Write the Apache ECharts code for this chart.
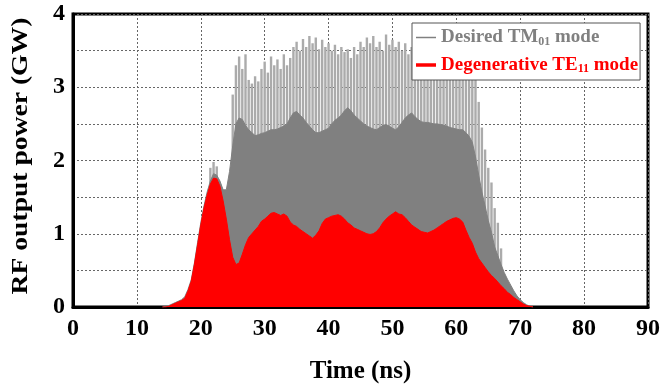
<!DOCTYPE html>
<html>
<head>
<meta charset="utf-8">
<script src="https://cdn.jsdelivr.net/npm/echarts@6/dist/echarts.min.js"></script>
<style>html,body{margin:0;padding:0;background:#fff;}#c{width:663px;height:391px;}</style>
</head>
<body>
<div id="c"></div>
<script>
// Time axis (ns) shared by the two envelopes
const times = [14,14.5,15,15.5,16,16.5,17,17.5,18,18.5,19,19.5,20,20.5,21,21.5,22,22.5,23,23.5,24,24.5,25,25.5,26,26.5,27,27.5,28,28.5,29,29.5,30,30.5,31,31.5,32,32.5,33,33.5,34,34.5,35,35.5,36,36.5,37,37.5,38,38.5,39,39.5,40,40.5,41,41.5,42,42.5,43,43.5,44,44.5,45,45.5,46,46.5,47,47.5,48,48.5,49,49.5,50,50.5,51,51.5,52,52.5,53,53.5,54,54.5,55,55.5,56,56.5,57,57.5,58,58.5,59,59.5,60,60.5,61,61.5,62,62.5,63,63.5,64,64.5,65,65.5,66,66.5,67,67.5,68,68.5,69,69.5,70,70.5,71,71.5,72];
// Degenerative TE11 mode power (GW)
const te11 = [0,0,0.01,0.03,0.05,0.07,0.09,0.12,0.22,0.35,0.58,0.85,1.12,1.35,1.53,1.68,1.76,1.75,1.65,1.45,1.2,0.92,0.68,0.58,0.6,0.72,0.85,0.95,1.0,1.05,1.1,1.17,1.2,1.24,1.28,1.29,1.27,1.25,1.27,1.24,1.16,1.12,1.1,1.06,1.03,1.0,0.97,0.94,0.98,1.04,1.14,1.2,1.22,1.24,1.25,1.26,1.24,1.2,1.15,1.12,1.08,1.06,1.04,1.02,1.0,0.99,1.0,1.03,1.08,1.15,1.2,1.24,1.27,1.3,1.27,1.26,1.22,1.17,1.12,1.09,1.06,1.03,1.02,1.01,1.03,1.05,1.08,1.11,1.14,1.17,1.19,1.21,1.22,1.2,1.16,1.05,0.95,0.87,0.75,0.66,0.6,0.54,0.48,0.43,0.39,0.34,0.29,0.25,0.2,0.17,0.13,0.1,0.07,0.04,0.02,0.01,0];
// Desired TM01 mode power, lower (dense) envelope (GW)
const tm01Base = [0,0.01,0.02,0.04,0.06,0.08,0.1,0.14,0.24,0.37,0.6,0.88,1.15,1.38,1.57,1.72,1.82,1.8,1.72,1.6,1.6,1.85,2.2,2.5,2.58,2.56,2.48,2.42,2.38,2.34,2.35,2.37,2.38,2.4,2.42,2.42,2.43,2.45,2.47,2.5,2.58,2.65,2.67,2.62,2.58,2.52,2.47,2.42,2.38,2.38,2.4,2.42,2.44,2.5,2.55,2.58,2.62,2.68,2.72,2.68,2.62,2.58,2.54,2.5,2.47,2.45,2.43,2.42,2.45,2.48,2.49,2.47,2.44,2.42,2.46,2.52,2.58,2.62,2.65,2.6,2.56,2.53,2.52,2.52,2.51,2.5,2.5,2.49,2.48,2.47,2.45,2.44,2.43,2.42,2.42,2.38,2.33,2.25,2.05,1.8,1.57,1.38,1.18,1.02,0.82,0.7,0.58,0.47,0.38,0.3,0.22,0.15,0.1,0.06,0.03,0.01,0];
// Desired TM01 mode oscillation peaks
const spikeTimes = [21.5,22,22.5,25,25.5,26,26.5,27,27.5,28,28.5,29,29.5,30,30.5,31,31.5,32,32.5,33,33.5,34,34.5,35,35.5,36,36.5,37,37.5,38,38.5,39,39.5,40,40.5,41,41.5,42,42.5,43,43.5,44,44.5,45,45.5,46,46.5,47,47.5,48,48.5,49,49.5,50,50.5,51,51.5,52,52.5,53,53.5,54,54.5,55,55.5,56,56.5,57,57.5,58,58.5,59,59.5,60,60.5,61,61.5,62,62.5,63,63.5,64,64.5,65,65.5,66,66.5,67];
const spikePeaks = [1.9,1.98,1.92,2.9,3.3,3.42,3.25,3.45,3.1,3.05,3.15,3.08,3.25,3.35,3.2,3.42,3.3,3.38,3.25,3.45,3.3,3.4,3.55,3.62,3.5,3.66,3.55,3.7,3.6,3.68,3.52,3.65,3.55,3.6,3.5,3.58,3.45,3.55,3.48,3.52,3.4,3.55,3.45,3.62,3.55,3.68,3.6,3.7,3.55,3.62,3.5,3.72,3.58,3.65,3.55,3.62,3.5,3.6,3.45,3.55,3.42,3.5,3.4,3.48,3.38,3.45,3.35,3.42,3.3,3.38,3.3,3.35,3.25,3.3,3.2,3.25,3.15,3.18,3.12,3.1,2.8,2.45,2.15,1.9,1.7,1.35,1.15,0.8];
const xTicks = [0,10,20,30,40,50,60,70,80,90];
const yTicks = [0,1,2,3,4];

const FONT = 'Liberation Serif';
const zip = (a, b) => a.map((v, i) => [v, b[i]]);

const chart = echarts.init(document.getElementById('c'), null, {renderer: 'canvas'});
chart.setOption({
  animation: false,
  backgroundColor: '#fff',
  grid: {left: 73, right: 13, top: 14, bottom: 84, show: true, borderColor: '#000', borderWidth: 3, backgroundColor: 'transparent'},
  graphic: [{
    type: 'text', z: 10,
    x: 21, y: 156, rotation: Math.PI / 2, scaleX: 1.15,
    style: {text: 'RF output power (GW)', font: 'bold 24px "Liberation Serif"', fill: '#000', align: 'center', verticalAlign: 'middle'}
  }],
  legend: {
    orient: 'vertical', left: 412, top: 23, padding: [5, 2, 5, 4], itemGap: 8,
    backgroundColor: '#fff', borderColor: '#555', borderWidth: 1,
    itemWidth: 20, itemHeight: 14,
    data: [
      {name: 'TM', icon: 'path://M0,0H20V1.5H0Z'},
      {name: 'TE', icon: 'path://M0,0H20V3.5H0Z'}
    ],
    formatter: n => n === 'TM' ? '{g|Desired TM}{gs|01}{g| mode}' : '{r|Degenerative TE}{rs|11}{r| mode}',
    textStyle: {
      rich: {
        g: {fontFamily: FONT, fontWeight: 'bold', fontSize: 19, color: '#808080'},
        gs: {fontFamily: FONT, fontWeight: 'bold', fontSize: 12, color: '#808080', padding: [8, 0, 0, 0]},
        r: {fontFamily: FONT, fontWeight: 'bold', fontSize: 19, color: '#ff0000'},
        rs: {fontFamily: FONT, fontWeight: 'bold', fontSize: 12, color: '#ff0000', padding: [8, 0, 0, 0]}
      }
    }
  },
  xAxis: {
    type: 'value', min: 0, max: 90, interval: 10,
    name: 'Time (ns)', nameLocation: 'middle', nameGap: 52,
    nameTextStyle: {fontFamily: FONT, fontWeight: 'bold', fontSize: 25, color: '#000'},
    axisLine: {show: true, lineStyle: {color: '#000', width: 3}},
    axisTick: {show: false},
    axisLabel: {fontFamily: FONT, fontWeight: 'bold', fontSize: 24, color: '#000', margin: 10,
      formatter: v => xTicks.includes(v) ? String(v) : ''},
    splitLine: {show: true, lineStyle: {color: '#666', type: [2, 2], width: 1}}
  },
  yAxis: {
    type: 'value', min: 0, max: 4, interval: 0.5,
    axisLine: {show: true, lineStyle: {color: '#000', width: 3}},
    axisTick: {show: false},
    axisLabel: {fontFamily: FONT, fontWeight: 'bold', fontSize: 24, color: '#000', margin: 8,
      formatter: v => yTicks.includes(v) ? String(v) : ''},
    splitLine: {show: true, lineStyle: {color: '#666', type: [2, 2], width: 1}}
  },
  series: [
    {
      name: 'TMpeaks', type: 'bar', z: 1, barWidth: 2.4, silent: true,
      itemStyle: {color: '#ababab'},
      data: zip(spikeTimes, spikePeaks)
    },
    {
      name: 'TM', type: 'line', z: 2, symbol: 'none', showSymbol: false,
      lineStyle: {width: 1, color: '#808080'},
      itemStyle: {color: '#808080'},
      areaStyle: {color: '#808080', opacity: 1},
      data: zip(times, tm01Base)
    },
    {
      name: 'TE', type: 'line', z: 3, symbol: 'none', showSymbol: false,
      lineStyle: {width: 1, color: '#ff0000'},
      itemStyle: {color: '#ff0000'},
      areaStyle: {color: '#ff0000', opacity: 1},
      data: zip(times, te11)
    }
  ]
});
</script>
</body>
</html>
